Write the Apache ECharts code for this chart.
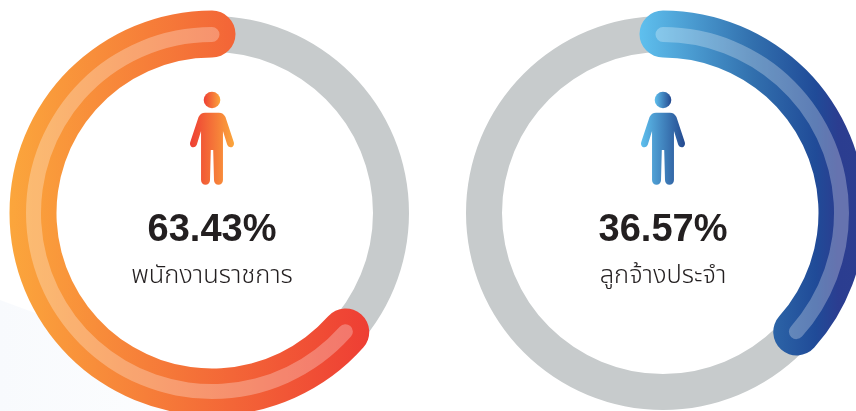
<!DOCTYPE html>
<html><head><meta charset="utf-8">
<style>html,body{margin:0;padding:0;background:#fff}#c{width:856px;height:411px}</style>
<script src="https://cdn.jsdelivr.net/npm/echarts@6/dist/echarts.min.js"></script>
</head><body><div id="c"></div>
<script>
const categories = ['พนักงานราชการ', 'ลูกจ้างประจำ'];
const shares = [63.43, 36.57];
const centers = [[212, 213], [663, 213]];
const clockwiseFlags = [false, true];

const grad = (stops) => ({type:'linear',x:0,y:0,x2:1,y2:0,colorStops:stops.map(c=>({offset:c[0],color:c[1]}))});
const arcGradients = [
  grad([[0,'#FBA63C'],[1,'#EE3E34']]),
  grad([[0,'#5FC0EE'],[0.5,'#3270AE'],[0.78,'#204B98'],[0.88,'#2B3D90'],[1,'#2C3E90']])
];
const iconGradients = [
  grad([[0,'#EE3E34'],[1,'#FBA63C']]),
  grad([[0,'#5FC0EE'],[1,'#24498F']])
];
const bodyPath = 'M-7 112.5H7C10 112.5 12 114 13.5 117L21.8 142C22.8 145 21 147.3 18.8 147.3C17 147.3 15.8 146 15.2 144.5L11 131V180C11 183 9 185 6.5 185C4 185 2 183 2 180L1.2 150H-1.2L-2 180C-2 183 -4 185 -6.5 185C-9 185 -11 183 -11 180V131L-15.2 144.5C-15.8 146 -17 147.3 -18.8 147.3C-21 147.3 -22.8 145 -21.8 142L-13.5 117C-12 114 -10 112.5 -7 112.5Z';

const off = {axisTick:{show:false},splitLine:{show:false},axisLabel:{show:false},pointer:{show:false},anchor:{show:false}};
const series = [];
categories.forEach((name,i)=>{
  const angle = {startAngle:90,endAngle:clockwiseFlags[i]?-270:450,clockwise:clockwiseFlags[i],min:0,max:100,center:centers[i]};
  series.push(Object.assign({type:'gauge',radius:197,silent:true,animation:false,
    axisLine:{roundCap:false,lineStyle:{width:36,color:[[1,'#C7CBCC']]}},
    progress:{show:false},title:{show:false},detail:{show:false},data:[{value:shares[i]}]},angle,off));
  series.push(Object.assign({type:'gauge',radius:202.5,silent:true,animation:false,
    axisLine:{show:false},
    progress:{show:true,roundCap:true,width:47,itemStyle:{color:arcGradients[i]}},
    title:{show:true,offsetCenter:[0,64.5],fontSize:25.5,color:'#231F20',fontFamily:'"Noto Sans Thai","Noto Sans",sans-serif',fontWeight:300},
    detail:{show:true,offsetCenter:[0,18],valueAnimation:false,formatter:v=>v.toFixed(2)+'%',fontSize:38,fontWeight:'bold',color:'#231F20',fontFamily:'"Liberation Sans",Arial,sans-serif'},
    data:[{value:shares[i],name}]},angle,off));
  series.push(Object.assign({type:'gauge',radius:186,silent:true,animation:false,
    axisLine:{show:false},
    progress:{show:true,roundCap:true,width:15,itemStyle:{color:'rgba(255,255,255,0.28)'}},
    title:{show:false},detail:{show:false},data:[{value:shares[i]}]},angle,off));
});
series.push({type:'custom',coordinateSystem:'none',silent:true,animation:false,z:5,
  data:categories.map((n,i)=>i),
  renderItem:(params)=>{
    const i=params.dataIndex, c=centers[i];
    return {type:'group',children:[
      {type:'circle',shape:{cx:c[0],cy:100,r:8.3},style:{fill:iconGradients[i]}},
      {type:'path',shape:{pathData:bodyPath,x:c[0]-22,y:112.5,width:44,height:72.5},style:{fill:iconGradients[i]}}
    ]};
  }});
const wash = {type:'linear',x:0,y:0,x2:1,y2:0,colorStops:[{offset:0,color:'#F8FAFD'},{offset:1,color:'#FFFFFF'}]};
const graphic = [{type:'polygon',z:-1,shape:{points:[[0,300],[300,411],[0,411]]},style:{fill:wash}}];
const chart = echarts.init(document.getElementById('c'),null,{renderer:'canvas'});
chart.setOption({animation:false,backgroundColor:'#fff',series,graphic});
</script></body></html>
